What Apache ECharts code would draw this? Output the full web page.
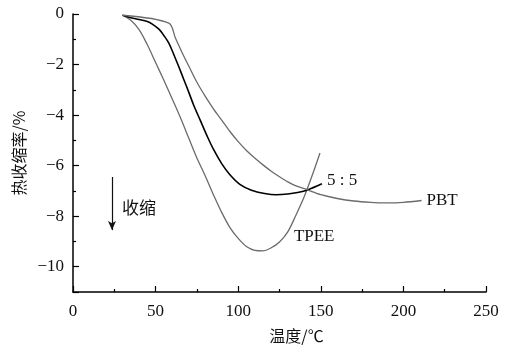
<!DOCTYPE html>
<html>
<head>
<meta charset="utf-8">
<script src="https://cdn.jsdelivr.net/npm/echarts@6/dist/echarts.min.js"></script>
<style>
  html, body { margin: 0; padding: 0; background: #fff; }
  #main { width: 514px; height: 349px; }
</style>
</head>
<body>
<div id="main"></div>
<script>
  // 温度 (℃) 与 热收缩率 (%)
  const tpeeData = [
    [30, -0.05], [35, -0.25], [40, -0.62], [45, -1.22], [50, -1.92], [55, -2.62],
    [60, -3.35], [65, -4.1], [70, -4.9], [75, -5.7], [80, -6.4], [85, -7.15],
    [90, -7.85], [95, -8.45], [100, -8.88], [105, -9.2], [110, -9.35], [115, -9.37],
    [120, -9.25], [125, -9.02], [130, -8.62], [135, -7.95], [140, -7.22], [145, -6.35],
    [149.5, -5.5]
  ];
  const blendData = [
    [30, -0.05], [35, -0.15], [40, -0.22], [45, -0.3], [48, -0.4], [52, -0.6],
    [55, -0.85], [58, -1.15], [61, -1.6], [64, -2.08], [67, -2.58], [70, -3.08],
    [73, -3.6], [77, -4.2], [81, -4.8], [85, -5.35], [90, -5.92], [95, -6.36],
    [101, -6.74], [108, -6.97], [116, -7.1], [123, -7.15], [130, -7.12], [136, -7.06],
    [142, -6.96], [150.7, -6.72]
  ];
  const pbtData = [
    [30, -0.05], [58, -0.36], [62, -0.95], [66, -1.52], [70, -2.05], [75, -2.7],
    [80, -3.25], [85, -3.75], [90, -4.2], [95, -4.65], [100, -5.05], [105, -5.4],
    [110, -5.7], [115, -5.97], [120, -6.22], [125, -6.44], [130, -6.64], [135, -6.8],
    [142, -6.96], [150, -7.15], [160, -7.3], [170, -7.4], [180, -7.45], [190, -7.47],
    [200, -7.45], [211, -7.38]
  ];
  const xTicks = [0, 50, 100, 150, 200, 250];
  const yTicks = [0, -2, -4, -6, -8, -10];

  // 标注位置
  const arrowFrom = [23.6, -6.45];
  const arrowTo = [23.6, -8.55];
  const shrinkText = [40, -7.67];
  const tpeeText = [146, -8.8];

  const serif = '"Liberation Serif", "Times New Roman", serif';
  const cjk = '"Noto Sans CJK SC", sans-serif';
  const grey = '#6b6b6b';

  let myChart = echarts.init(document.getElementById('main'), null, { renderer: 'canvas' });

  let option = {
    animation: false,
    backgroundColor: '#fff',
    grid: { left: 73, right: 28, top: 14, bottom: 57 },
    xAxis: {
      type: 'value',
      min: xTicks[0],
      max: xTicks[xTicks.length - 1],
      interval: 50,
      name: '温度/℃',
      nameLocation: 'middle',
      nameGap: 36,
      nameTextStyle: { fontFamily: cjk, fontSize: 16, color: '#111', padding: [0, 0, 0, 34] },
      axisLine: { onZero: false, lineStyle: { color: '#000', width: 1.5 } },
      axisTick: { inside: true, length: 6, lineStyle: { color: '#000', width: 1.2 } },
      minorTick: { show: true, splitNumber: 2, length: 3, lineStyle: { color: '#000', width: 1.2 } },
      axisLabel: { fontFamily: serif, fontSize: 17, color: '#111', margin: 11 },
      splitLine: { show: false }
    },
    yAxis: {
      type: 'value',
      min: -11,
      max: yTicks[0],
      name: '热收缩率/%',
      nameLocation: 'middle',
      nameGap: 45,
      nameTextStyle: { fontFamily: cjk, fontSize: 16, color: '#111' },
      axisLine: { onZero: false, lineStyle: { color: '#000', width: 1.5 } },
      axisTick: { inside: true, length: 6, lineStyle: { color: '#000', width: 1.2 } },
      minorTick: { show: true, splitNumber: 2, length: 3, lineStyle: { color: '#000', width: 1.2 } },
      axisLabel: {
        fontFamily: serif, fontSize: 17, color: '#111', margin: 9,
        showMinLabel: false,
        formatter: function (v) {
          if (yTicks.indexOf(v) < 0) return '';
          return v < 0 ? '\u2212' + Math.abs(v) : String(v);
        }
      },
      splitLine: { show: false }
    },
    series: [
      {
        name: 'TPEE',
        type: 'line',
        data: tpeeData,
        smooth: 0.35,
        showSymbol: false,
        lineStyle: { color: grey, width: 1.3 },
        markPoint: {
          symbol: 'circle',
          symbolSize: 0,
          label: { show: true, position: 'inside', fontFamily: serif, fontSize: 17, color: '#111' },
          data: [
            { coord: tpeeText, value: 'TPEE', label: { formatter: 'TPEE' } },
            { coord: shrinkText, value: '收缩', label: { formatter: '收缩', fontFamily: cjk, fontSize: 17 } }
          ]
        },
        markLine: {
          silent: true,
          symbol: ['none', 'arrow'],
          symbolSize: [6, 9],
          label: { show: false },
          lineStyle: { color: '#111', width: 1.2, type: 'solid' },
          data: [[{ coord: arrowFrom }, { coord: arrowTo }]]
        }
      },
      {
        name: '5 : 5',
        type: 'line',
        data: blendData,
        smooth: 0.35,
        showSymbol: false,
        lineStyle: { color: '#000', width: 1.6 },
        endLabel: {
          show: true,
          formatter: '5 : 5',
          fontFamily: serif,
          fontSize: 17,
          color: '#111',
          distance: 5,
          offset: [0, -3]
        }
      },
      {
        name: 'PBT',
        type: 'line',
        data: pbtData,
        smooth: 0.3,
        showSymbol: false,
        lineStyle: { color: grey, width: 1.3 },
        endLabel: {
          show: true,
          formatter: 'PBT',
          fontFamily: serif,
          fontSize: 17,
          color: '#111',
          distance: 5
        }
      }
    ]
  };

  myChart.setOption(option);
</script>
</body>
</html>
